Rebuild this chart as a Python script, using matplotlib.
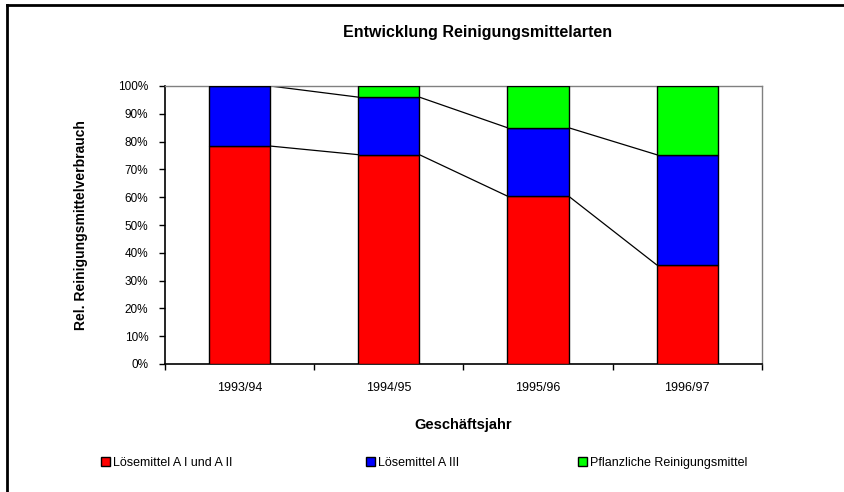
import matplotlib.pyplot as plt
import numpy as np

plt.rcParams['font.family'] = ['Liberation Sans', 'DejaVu Sans']

# Daten (Anteile in %)
jahre = ['1993/94', '1994/95', '1995/96', '1996/97']
loesemittel_a12 = [78.4, 75.3, 60.4, 35.7]
loesemittel_a3 = [21.6, 20.7, 24.6, 39.6]
pflanzlich = [0.0, 4.0, 15.0, 24.7]
serien = ['Lösemittel A I und A II', 'Lösemittel A III', 'Pflanzliche Reinigungsmittel']
farben = ['#ff0000', '#0000ff', '#00ff00']

W, H = 845, 492
fig = plt.figure(figsize=(W / 100, H / 100), dpi=100)

# Rahmen oben und links
fig.add_artist(plt.Line2D([7 / W, 7 / W], [0, 1 - 5 / H], color='black', lw=2))
fig.add_artist(plt.Line2D([7 / W, 1], [1 - 5 / H, 1 - 5 / H], color='black', lw=2))

ax = fig.add_axes([165 / W, 1 - 364 / H, (761.7 - 165) / W, (364 - 86) / H])

x = np.arange(len(jahre))
breite = 0.41
daten = [loesemittel_a12, loesemittel_a3, pflanzlich]
unten = np.zeros(len(jahre))
bars = []
for werte, farbe, name in zip(daten, farben, serien):
    b = ax.bar(x, werte, breite, bottom=unten, color=farbe, edgecolor='black',
               linewidth=1, label=name, zorder=3)
    bars.append(b)
    unten = unten + np.array(werte)

# Serienlinien zwischen den Säulen
kum = np.cumsum(np.array(daten), axis=0)
for stufe in kum[:-1]:
    for i in range(len(jahre) - 1):
        ax.plot([x[i] + breite / 2, x[i + 1] - breite / 2], [stufe[i], stufe[i + 1]],
                color='black', lw=0.9, zorder=2)

ax.set_xlim(-0.5, len(jahre) - 0.5)
ax.set_ylim(0, 100)
ax.set_yticks(np.arange(0, 101, 10))
ax.set_yticklabels([f'{v}%' for v in range(0, 101, 10)], fontsize=8.5)
ax.set_xticks(np.arange(-0.5, len(jahre), 1.0))
ax.set_xticklabels([])
ax.set_xticks(x, minor=True)
ax.set_xticklabels(jahre, minor=True, fontsize=9)
ax.tick_params(axis='x', which='minor', length=0, pad=13)
ax.tick_params(axis='x', which='major', length=4, direction='out', width=1)
ax.tick_params(axis='y', length=4, direction='out', width=1, pad=8)

for s in ['top', 'right']:
    ax.spines[s].set_color('#808080')
    ax.spines[s].set_linewidth(1)
for s in ['left', 'bottom']:
    ax.spines[s].set_color('black')
    ax.spines[s].set_linewidth(1.2)

ax.set_xlabel('Geschäftsjahr', fontsize=10.5, fontweight='bold', labelpad=17)
ax.set_ylabel('Rel. Reinigungsmittelverbrauch', fontsize=10, fontweight='bold', labelpad=22)
fig.text(478 / W, 1 - 32 / H, 'Entwicklung Reinigungsmittelarten', ha='center', va='center',
         fontsize=11.5, fontweight='bold')

# Legende: drei Einträge nebeneinander
for b, name, xpos in zip(bars, serien, [101, 366, 578]):
    fig.legend([b], [name], loc='center left', bbox_to_anchor=(xpos / W, 1 - 463 / H),
               frameon=False, fontsize=9, handlelength=0.7, handleheight=0.7,
               handletextpad=0.3, borderpad=0, borderaxespad=0)

fig.savefig('out.png', dpi=100)
